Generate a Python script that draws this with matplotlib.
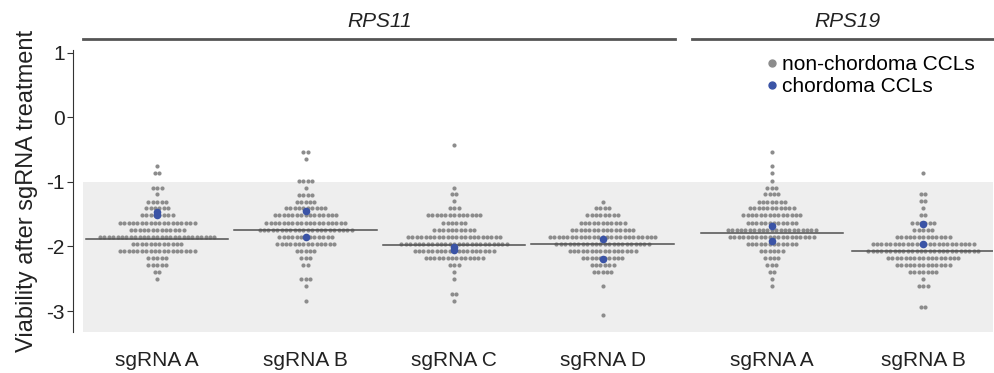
import matplotlib.pyplot as plt
from matplotlib.lines import Line2D

plt.rcParams['font.family'] = ['Liberation Sans', 'DejaVu Sans']

labels = ["sgRNA A", "sgRNA B", "sgRNA C", "sgRNA D", "sgRNA A", "sgRNA B"]
genes = ["RPS11", "RPS19"]

# binned rows of non-chordoma CCLs: row value and number of cell lines in that row
rps11_a_rows = [-0.76, -0.86, -1.09, -1.19, -1.31, -1.41, -1.52, -1.63, -1.74, -1.85, -1.96, -2.07, -2.18, -2.29, -2.40, -2.51]
rps11_a_counts = [1, 2, 3, 1, 5, 6, 8, 18, 13, 27, 12, 18, 5, 5, 2, 1]
rps11_b_rows = [-0.54, -0.65, -0.98, -1.09, -1.20, -1.31, -1.41, -1.52, -1.63, -1.74, -1.85, -1.96, -2.07, -2.18, -2.29, -2.51, -2.62, -2.84]
rps11_b_counts = [2, 1, 4, 1, 4, 5, 10, 15, 19, 22, 13, 14, 5, 3, 2, 3, 1, 1]
rps11_c_rows = [-0.43, -1.09, -1.19, -1.30, -1.41, -1.52, -1.63, -1.74, -1.85, -1.96, -2.07, -2.18, -2.29, -2.40, -2.51, -2.73, -2.84]
rps11_c_counts = [1, 1, 2, 1, 3, 13, 6, 10, 22, 25, 19, 14, 3, 1, 1, 2, 1]
rps11_d_rows = [-1.31, -1.41, -1.52, -1.63, -1.74, -1.85, -1.96, -2.07, -2.18, -2.29, -2.40, -2.62, -3.06]
rps11_d_counts = [1, 4, 8, 11, 15, 25, 22, 16, 10, 6, 5, 1, 1]
rps19_a_rows = [-0.54, -0.76, -0.86, -0.98, -1.09, -1.19, -1.31, -1.41, -1.52, -1.63, -1.74, -1.85, -1.96, -2.07, -2.18, -2.29, -2.40, -2.51, -2.62]
rps19_a_counts = [1, 1, 1, 1, 3, 4, 7, 11, 14, 12, 21, 20, 12, 6, 4, 3, 2, 1, 1]
rps19_b_rows = [-0.86, -1.19, -1.30, -1.41, -1.52, -1.63, -1.74, -1.85, -1.96, -2.07, -2.18, -2.29, -2.40, -2.51, -2.62, -2.94]
rps19_b_counts = [1, 2, 2, 1, 2, 6, 5, 13, 24, 26, 17, 13, 7, 1, 3, 2]

# chordoma CCLs
chordoma = [[-1.46, -1.51], [-1.45, -1.85], [-2.01, -2.05], [-1.89, -2.20], [-1.68, -1.92], [-1.66, -1.97]]
medians = [-1.89, -1.75, -1.985, -1.955, -1.79, -2.07]

rows = [rps11_a_rows, rps11_b_rows, rps11_c_rows, rps11_d_rows, rps19_a_rows, rps19_b_rows]
counts = [rps11_a_counts, rps11_b_counts, rps11_c_counts, rps11_d_counts, rps19_a_counts, rps19_b_counts]

positions = [0, 1, 2, 3, 4.14, 5.16]
pitch = 0.0296
gray = "#8c8c8c"
blue = "#3b54a6"

fig = plt.figure(figsize=(9.95, 3.73), dpi=100)
ax = fig.add_axes([83 / 995, 1 - 331.7 / 373, 910 / 995, 281.7 / 373])
ax.set_xlim(-0.5, 5.63)
ax.set_ylim(-3.32, 1.04)
ax.axhspan(-3.32, -1, color="#eeeeee", lw=0, zorder=0)

for i in range(6):
    xs, ys = [], []
    for r, n in zip(rows[i], counts[i]):
        for k in range(n):
            xs.append(positions[i] + (k - (n - 1) / 2) * pitch)
            ys.append(r)
    ax.scatter(xs, ys, s=9, color=gray, lw=0, zorder=2)
    ax.plot([positions[i] - 0.48, positions[i] + 0.48], [medians[i], medians[i]], color="#505050", lw=1.1, zorder=3)
    ax.scatter([positions[i]] * len(chordoma[i]), chordoma[i], s=30, color=blue, lw=0, zorder=4)

# gene brackets
tr = ax.get_xaxis_transform()
ax.plot([-0.5, 3.49], [1.039, 1.039], color="#555555", lw=2, transform=tr, clip_on=False)
ax.plot([3.6, 5.63], [1.039, 1.039], color="#555555", lw=2, transform=tr, clip_on=False)
ax.text(1.5, 1.10, genes[0], transform=tr, ha="center", va="center", fontsize=15, style="italic", color="#222222")
ax.text(4.65, 1.10, genes[1], transform=tr, ha="center", va="center", fontsize=15, style="italic", color="#222222")

for s in ["top", "right", "bottom"]:
    ax.spines[s].set_visible(False)
ax.spines["left"].set_position(("outward", 7))
ax.spines["left"].set_color("#333333")
ax.set_yticks([-3, -2, -1, 0, 1])
ax.set_yticklabels(["-3", "-2", "-1", "0", "1"])
ax.tick_params(axis="y", labelsize=15, length=4, pad=2, color="#333333", labelcolor="#222222")
ax.set_xticks(positions)
ax.set_xticklabels(labels)
ax.tick_params(axis="x", length=0, labelsize=15, pad=14, labelcolor="#222222")
ax.set_ylabel("Viability after sgRNA treatment", fontsize=17, color="#222222", labelpad=6)

handles = [Line2D([], [], marker="o", ls="", color=gray, markersize=5),
           Line2D([], [], marker="o", ls="", color=blue, markersize=5)]
ax.legend(handles, ["non-chordoma CCLs", "chordoma CCLs"], loc="upper left", bbox_to_anchor=(0.7516, 0.981),
          frameon=False, fontsize=15, handletextpad=0.22, handlelength=0.5, labelspacing=0.12, borderpad=0, borderaxespad=0)

plt.savefig("out.png", dpi=100)
